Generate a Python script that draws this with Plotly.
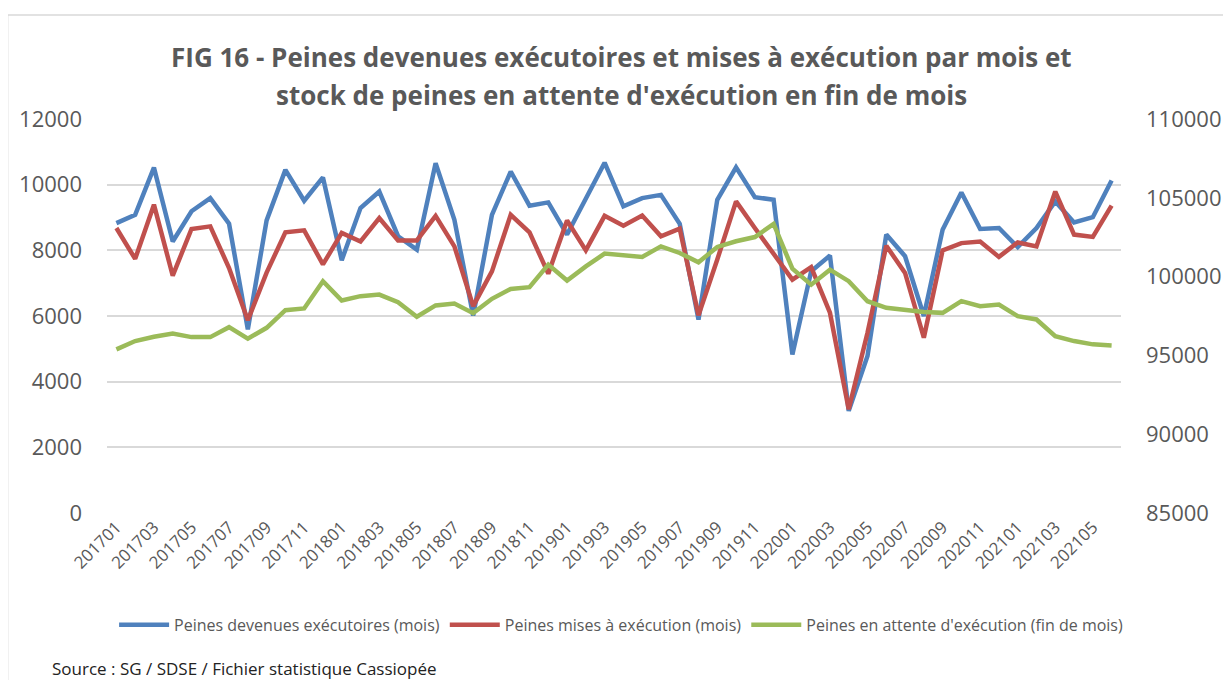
import plotly.graph_objects as go

months = [f"{y}{m:02d}" for y in range(2017, 2022) for m in range(1, 13)][:54]

executoires = [8830, 9080, 10520, 8270, 9190, 9590, 8810, 5590, 8910, 10450, 9510, 10220,
               7700, 9290, 9790, 8430, 8020, 10650, 8930, 6010, 9080, 10400, 9360, 9460,
               8480, 9590, 10670, 9340, 9590, 9690, 8810, 5890, 9540, 10530, 9620, 9540,
               4830, 7360, 7840, 3110, 4780, 8480, 7820, 6000, 8630, 9760, 8650, 8680,
               8100, 8680, 9490, 8850, 9010, 10130]

mises = [8680, 7740, 9390, 7230, 8650, 8730, 7460, 5870, 7320, 8550, 8610, 7570,
         8530, 8270, 8980, 8300, 8300, 9050, 8120, 6300, 7360, 9080, 8550, 7290,
         8910, 8000, 9050, 8750, 9060, 8430, 8660, 6020, 7720, 9490, 8680, 7920,
         7110, 7490, 6100, 3160, 5490, 8140, 7310, 5340, 8000, 8220, 8270, 7800,
         8240, 8120, 9790, 8480, 8410, 9360]

attente = [95380, 95910, 96180, 96390, 96160, 96160, 96790, 96060, 96750, 97870, 97980, 99710,
           98480, 98760, 98860, 98380, 97450, 98170, 98290, 97680, 98590, 99220, 99330, 100760,
           99750, 100650, 101460, 101330, 101250, 101920, 101500, 100910, 101880, 102240, 102510, 103340,
           100500, 99490, 100440, 99710, 98440, 98020, 97870, 97760, 97700, 98440, 98120, 98230,
           97490, 97280, 96220, 95910, 95700, 95630]

left_ticks = [0, 2000, 4000, 6000, 8000, 10000, 12000]
right_ticks = [85000, 90000, 95000, 100000, 105000, 110000]

title_lines = ["FIG 16 - Peines devenues exécutoires et mises à exécution par mois et",
               "stock de peines en attente d'exécution en fin de mois"]
source_text = "Source : SG / SDSE / Fichier statistique Cassiopée"

FONT = "Open Sans"
GREY = "#595959"

fig = go.Figure()
fig.add_trace(go.Scatter(x=months, y=executoires, mode="lines",
                         name="Peines devenues exécutoires (mois)",
                         line=dict(color="#4F81BD", width=4.5)))
fig.add_trace(go.Scatter(x=months, y=mises, mode="lines",
                         name="Peines mises à exécution (mois)",
                         line=dict(color="#C0504D", width=4.5)))
fig.add_trace(go.Scatter(x=months, y=attente, mode="lines", yaxis="y2",
                         name="Peines en attente d'exécution (fin de mois)",
                         line=dict(color="#9BBB59", width=4.5)))

# page body has an 8px margin: plot area lands at x 107..1121, y 119..513 on screen
fig.update_layout(
    width=1231, height=680,
    margin=dict(l=99, r=118, t=111, b=175),
    paper_bgcolor="white", plot_bgcolor="white",
    font=dict(family=FONT, color=GREY),
    xaxis=dict(type="category", range=[-0.5, 53.5], tickvals=months[::2],
               tickangle=-45, showgrid=False, showline=False, zeroline=False,
               ticks="", tickfont=dict(size=17, color=GREY)),
    yaxis=dict(range=[0, 12000], tickvals=left_ticks, ticktext=[str(v) for v in left_ticks],
               showgrid=True, gridcolor="#D9D9D9", gridwidth=1.5, zeroline=False, showline=False,
               ticks="", ticklabelstandoff=24, tickfont=dict(size=22, color=GREY)),
    yaxis2=dict(range=[85000, 110000], tickvals=right_ticks, ticktext=[str(v) for v in right_ticks],
                overlaying="y", side="right", showgrid=False, zeroline=False, showline=False,
                ticks="", ticklabelstandoff=24, tickfont=dict(size=22, color=GREY)),
    legend=dict(orientation="h", x=0.507, xanchor="center", y=-0.284, yanchor="middle",
                font=dict(size=16, color=GREY), itemwidth=50),
    showlegend=True,
)

fig.add_shape(type="rect", xref="paper", yref="paper",
              x0=-0.098, x1=1.12, y0=-0.46, y1=1.264,
              line=dict(color="#D9D9D9", width=1.5), fillcolor="rgba(0,0,0,0)", layer="below")

for txt, yp in zip(title_lines, [1.157, 1.061]):
    fig.add_annotation(text=f"<b>{txt}</b>", xref="paper", yref="paper", x=0.507, y=yp,
                       xanchor="center", yanchor="middle", showarrow=False,
                       font=dict(family=FONT, size=26, color=GREY))

fig.add_annotation(text=source_text,
                   xref="paper", yref="paper", x=-0.0567, y=-0.395,
                   xanchor="left", yanchor="middle", showarrow=False,
                   font=dict(family=FONT, size=17, color="#222222"))

fig.write_html("out.html")
